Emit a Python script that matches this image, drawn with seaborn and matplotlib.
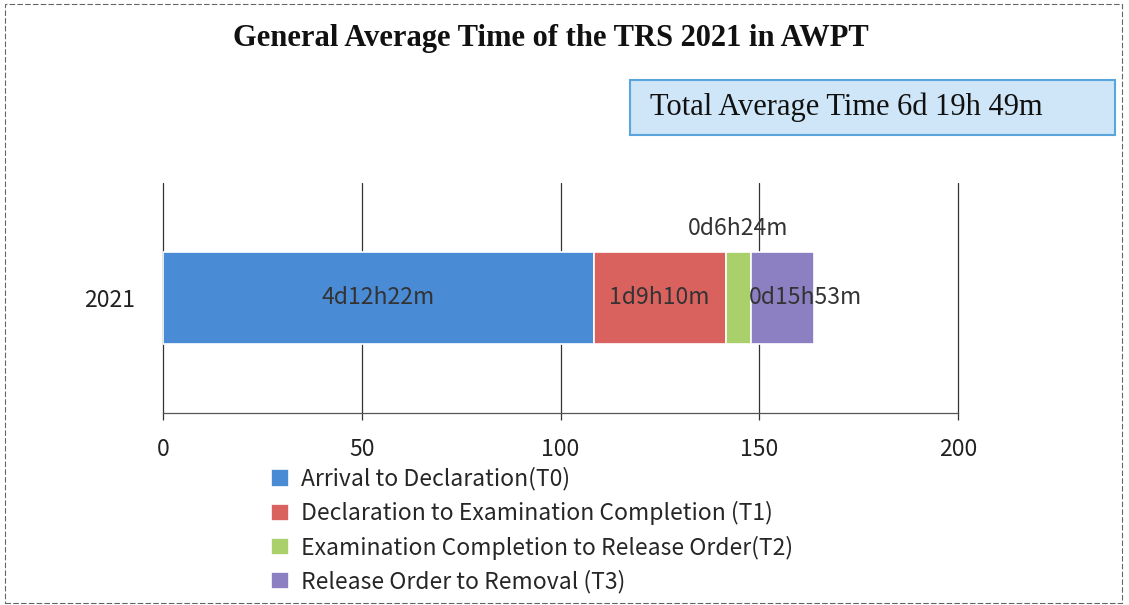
import matplotlib
matplotlib.use("Agg")
import matplotlib.pyplot as plt
from matplotlib.patches import Rectangle
import seaborn as sns
import pandas as pd

# hours spent in each stage (4d12h22m, 1d9h10m, 0d6h24m, 0d15h53m)
year = ["2021"]
stages = [
    "Arrival to Declaration(T0)",
    "Declaration to Examination Completion (T1)",
    "Examination Completion to Release Order(T2)",
    "Release Order to Removal (T3)",
]
hours = [108.37, 33.17, 6.4, 15.88]
bar_labels = ["4d12h22m", "1d9h10m", "0d6h24m", "0d15h53m"]
colors = ["#4a8bd6", "#d9625f", "#a9d06b", "#8c80c2"]
x_ticks = [0, 50, 100, 150, 200]

sns.set_theme(style="white")
plt.rcParams["font.family"] = ["Noto Sans CJK SC", "DejaVu Sans"]

fs = 16.5
fig = plt.figure(figsize=(11.29, 6.05), dpi=100)
ax = fig.add_axes([0.1444, 0.3174, 0.7042, 0.3802])

df = pd.DataFrame({"stage": stages, "hours": hours})
df["left"] = df["hours"].cumsum() - df["hours"]

for i, row in df.iterrows():
    ax.barh(year, row["hours"], left=row["left"], height=0.4,
            color=colors[i], edgecolor="white", linewidth=1.2,
            label=row["stage"], zorder=3)

# segment labels
for i, row in df.iterrows():
    cx = row["left"] + row["hours"] / 2
    if i == 2:
        ax.text(cx, 0.3, bar_labels[i], ha="center", va="center",
                fontsize=fs, color="#333333", zorder=4)
    elif i == 3:
        ax.text(row["left"] - 0.5, 0, bar_labels[i], ha="left", va="center",
                fontsize=fs, color="#333333", zorder=4)
    else:
        ax.text(cx, 0, bar_labels[i], ha="center", va="center",
                fontsize=fs, color="#333333", zorder=4)

ax.set_xlim(0, 200)
ax.set_ylim(-0.5, 0.5)
ax.set_xticks(x_ticks)
ax.set_xticklabels([str(t) for t in x_ticks], fontsize=fs, color="#222222")
ax.tick_params(axis="y", labelsize=fs, labelcolor="#222222", pad=14)
ax.tick_params(axis="x", pad=13, bottom=True, length=5, width=0.9,
               color="#333333")
for t in x_ticks:
    ax.axvline(t, color="#333333", linewidth=0.9, zorder=1, clip_on=False)
for s in ["top", "right", "left"]:
    ax.spines[s].set_visible(False)
ax.spines["bottom"].set_color("#555555")
ax.spines["bottom"].set_linestyle((0, (6, 1)))
ax.spines["bottom"].set_linewidth(0.9)

fig.text(0.488, 0.937, "General Average Time of the TRS 2021 in AWPT",
         ha="center", va="center", fontsize=22, fontweight="bold",
         family="Liberation Serif", color="#111111")

# total time box
fig.patches.append(Rectangle((0.558, 0.777), 0.43, 0.091,
                             transform=fig.transFigure, facecolor="#cfe6f8",
                             edgecolor="#5aa6dc", linewidth=1.5))
fig.text(0.576, 0.823, "Total Average Time 6d 19h 49m", ha="left",
         va="center", fontsize=22, family="Liberation Serif", color="#111111")

handles, labels = ax.get_legend_handles_labels()
fig.legend(handles, labels, loc="upper left", bbox_to_anchor=(0.232, 0.243),
           frameon=False, fontsize=fs, handlelength=0.8, handleheight=0.8,
           handletextpad=0.5, labelspacing=0.45, borderaxespad=0)

# dashed page border
fig.patches.append(Rectangle((0.004, 0.004), 0.99, 0.99,
                             transform=fig.transFigure, fill=False,
                             edgecolor="#666666", linewidth=0.8,
                             linestyle=(0, (5, 2))))

fig.savefig("out.png", dpi=100)
